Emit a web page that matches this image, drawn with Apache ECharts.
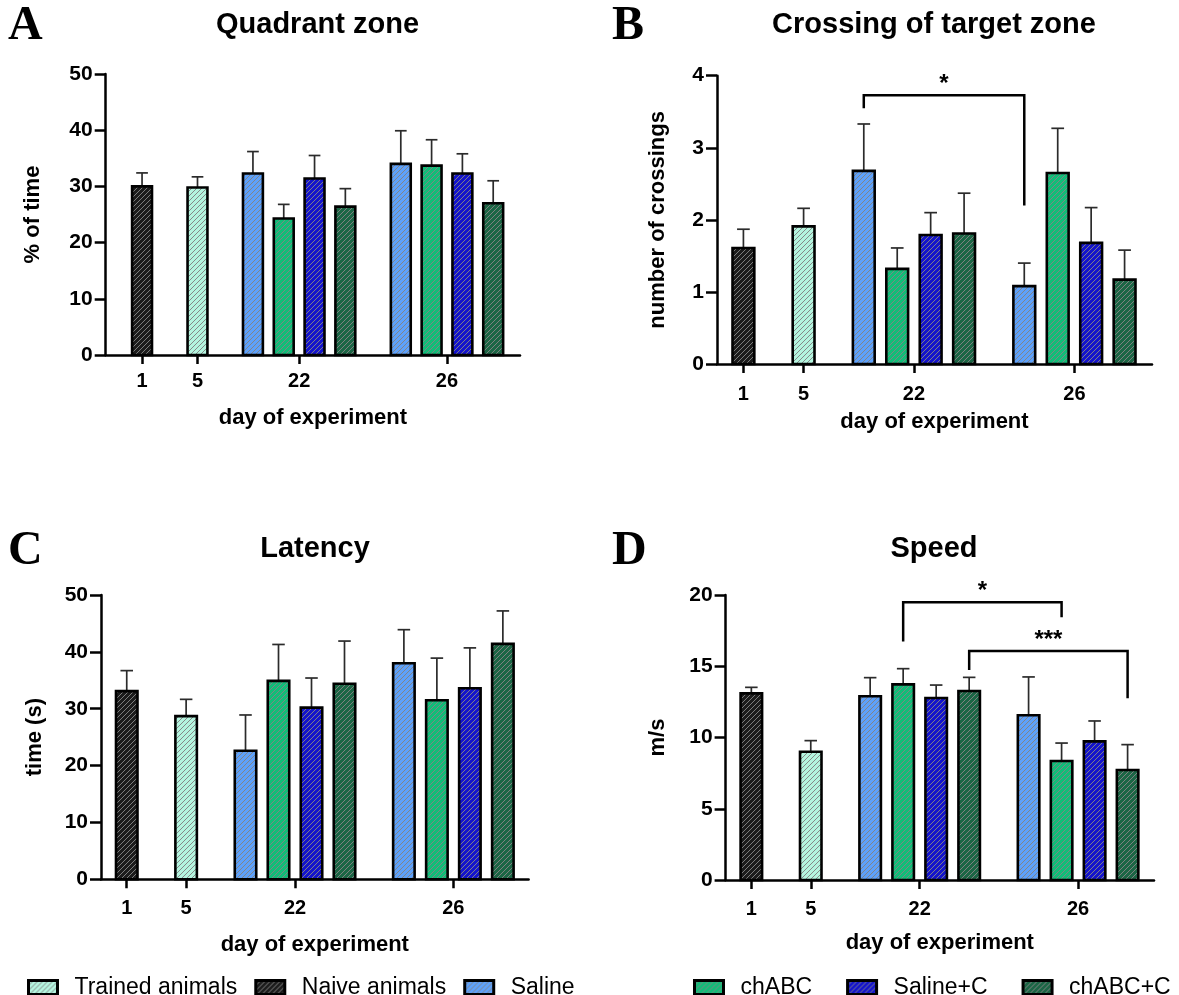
<!DOCTYPE html>
<html><head><meta charset="utf-8">
<script src="https://cdn.jsdelivr.net/npm/echarts@6/dist/echarts.min.js"></script>
<style>html,body{margin:0;padding:0;background:#fff}#c{width:1179px;height:995px}</style>
</head><body><div id="c"></div>
<script>
// ---------------- data ----------------
const groupNames = ['Naive animals', 'Trained animals', 'Saline', 'chABC', 'Saline+C', 'chABC+C'];
const barDays    = ['1', '5', '22', '22', '22', '22', '26', '26', '26', '26'];
const barGroups  = [0, 1, 2, 3, 4, 5, 2, 3, 4, 5];
const dayLabels  = ['1', '5', '22', '26'];

const quadMean  = [30.0, 29.8, 32.3, 24.3, 31.4, 26.4, 34.0, 33.7, 32.3, 27.0];
const quadSem   = [2.4, 1.9, 3.9, 2.5, 4.1, 3.2, 5.9, 4.6, 3.5, 4.0];
const crossMean = [1.61, 1.91, 2.68, 1.32, 1.79, 1.81, 1.08, 2.65, 1.68, 1.17];
const crossSem  = [0.26, 0.25, 0.65, 0.29, 0.31, 0.56, 0.32, 0.62, 0.49, 0.41];
const latMean   = [33.1, 28.7, 22.6, 34.9, 30.2, 34.4, 38.0, 31.5, 33.6, 41.4];
const latSem    = [3.6, 2.95, 6.3, 6.4, 5.2, 7.5, 5.9, 7.4, 7.1, 5.8];
const speedMean = [13.1, 9.0, 12.89, 13.73, 12.77, 13.26, 11.56, 8.35, 9.73, 7.72];
const speedSem  = [0.42, 0.78, 1.31, 1.1, 0.91, 0.96, 2.69, 1.26, 1.43, 1.78];

// significance: bar index pairs, bracket level, drop ends, label
const crossSig = [{from: 2, to: 6, level: 3.73, leftEnd: 3.55, rightEnd: 2.20, text: '*'}];
const speedSig = [
  {from: 3, to: 7, level: 19.5, leftEnd: 16.73, rightEnd: 18.43, text: '*'},
  {from: 5, to: 9, level: 16.07, leftEnd: 14.74, rightEnd: 12.75, text: '***'}
];

// ---------------- styles / layout ----------------
const groupColors = ['#1c1c1c', '#b4f5df', '#5ea1fa', '#10bd78', '#1414cc', '#1b6645'];
const SANS = 'Liberation Sans, Arial, sans-serif';

function hatch(color) {
  const n = 10, c = document.createElement('canvas');
  c.width = n; c.height = n;
  const g = c.getContext('2d');
  g.fillStyle = color; g.fillRect(0, 0, n, n);
  g.strokeStyle = '#838383'; g.lineWidth = 0.95;
  for (const o of [-n, -n / 2, 0, n / 2, n]) {
    g.beginPath(); g.moveTo(o, n); g.lineTo(o + n, 0); g.stroke();
  }
  return {image: c, repeat: 'repeat'};
}
const patterns = groupColors.map(hatch);

// slot positions: 1 unit between bars of same day, 1.8 between days
const slotPos = [];
barDays.forEach((d, i) => {
  if (i === 0) slotPos.push(0);
  else slotPos.push(slotPos[i - 1] + (d === barDays[i - 1] ? 1 : 1.8));
});
const dayPos = dayLabels.map(d => {
  const ps = slotPos.filter((p, i) => barDays[i] === d);
  return ps.reduce((a, b) => a + b, 0) / ps.length;
});
const BAR_FRAC = 0.73, BORDER = 2.6;

const panels = [
  {mean: quadMean, sem: quadSem, sig: [], title: 'Quadrant zone', letter: 'A', yName: '% of time',
   grid: {left: 105.7, top: 74, width: 414.3, height: 281}, xr: [-1.18, 12.27], ymax: 50, step: 10,
   yNameGap: 62, xNameGap: 52, xLabelMargin: 16, titleX: 317.5, titleY: 25, letterX: 8, letterY: 27},
  {mean: crossMean, sem: crossSem, sig: crossSig, title: 'Crossing of target zone', letter: 'B', yName: 'number of crossings',
   grid: {left: 717, top: 75.7, width: 435, height: 288.3}, xr: [-0.79, 12.22], ymax: 4, step: 1,
   yNameGap: 48, xNameGap: 47, xLabelMargin: 20, titleX: 934, titleY: 25, letterX: 612, letterY: 27},
  {mean: latMean, sem: latSem, sig: [], title: 'Latency', letter: 'C', yName: 'time (s)',
   grid: {left: 101, top: 595, width: 427.6, height: 284.3}, xr: [-0.78, 12.18], ymax: 50, step: 10,
   yNameGap: 55, xNameGap: 55, xLabelMargin: 19, titleX: 315, titleY: 549, letterX: 8, letterY: 552},
  {mean: speedMean, sem: speedSem, sig: speedSig, title: 'Speed', letter: 'D', yName: 'm/s',
   grid: {left: 725.6, top: 595, width: 428.4, height: 285}, xr: [-0.78, 12.2], ymax: 20, step: 5,
   yNameGap: 57, xNameGap: 52, xLabelMargin: 19, titleX: 934, titleY: 549, letterX: 612, letterY: 552}
];

const grids = [], xAxes = [], yAxes = [], series = [], graphics = [];
panels.forEach((P, pi) => {
  grids.push(Object.assign({outerBoundsMode: 'none', containLabel: false}, P.grid));
  const pitch = P.grid.width / (P.xr[1] - P.xr[0]);
  xAxes.push({
    type: 'value', gridIndex: pi, min: P.xr[0], max: P.xr[1],
    name: 'day of experiment', nameLocation: 'middle', nameGap: P.xNameGap,
    nameTextStyle: {fontFamily: SANS, fontWeight: 'bold', fontSize: 22, color: '#000'},
    axisLine: {show: true, onZero: false, lineStyle: {color: '#000', width: 2.5}},
    axisTick: {show: true, customValues: dayPos, length: 9, lineStyle: {color: '#000', width: 2.5}},
    axisLabel: {show: true, customValues: dayPos, margin: P.xLabelMargin,
      fontFamily: SANS, fontWeight: 'bold', fontSize: 20, color: '#000',
      formatter: v => { let k = 0, best = 1e9; dayPos.forEach((p, i) => { if (Math.abs(p - v) < best) { best = Math.abs(p - v); k = i; } }); return dayLabels[k]; }},
    splitLine: {show: false}
  });
  yAxes.push({
    type: 'value', gridIndex: pi, min: 0, max: P.ymax, interval: P.step,
    name: P.yName, nameLocation: 'middle', nameGap: P.yNameGap,
    nameTextStyle: {fontFamily: SANS, fontWeight: 'bold', fontSize: 22, color: '#000'},
    axisLine: {show: true, onZero: false, lineStyle: {color: '#000', width: 2.5}},
    axisTick: {show: true, length: 11, lineStyle: {color: '#000', width: 2.5}},
    axisLabel: {margin: 13, fontFamily: SANS, fontWeight: 'bold', fontSize: 21, color: '#000'},
    splitLine: {show: false}
  });
  // bars: one custom series per group
  groupNames.forEach((name, gi) => {
    const data = [];
    P.mean.forEach((m, i) => { if (barGroups[i] === gi) data.push([slotPos[i], m]); });
    series.push({
      type: 'custom', name, xAxisIndex: pi, yAxisIndex: pi, data, z: 3, animation: false, silent: true,
      itemStyle: {color: patterns[gi], borderColor: '#000', borderWidth: BORDER},
      renderItem: (params, api) => {
        const x = api.value(0), y = api.value(1);
        const a = api.coord([x - BAR_FRAC / 2, y]);
        const b = api.coord([x + BAR_FRAC / 2, 0]);
        return {type: 'rect',
          shape: {x: a[0] + BORDER / 2, y: a[1], width: b[0] - a[0] - BORDER, height: b[1] - a[1]},
          style: {fill: patterns[gi], stroke: '#000', lineWidth: BORDER}};
      }
    });
  });
  // error bars (upper SEM)
  series.push({
    type: 'custom', xAxisIndex: pi, yAxisIndex: pi, z: 2, animation: false, silent: true,
    data: P.mean.map((m, i) => [slotPos[i], m, m + P.sem[i]]),
    renderItem: (params, api) => {
      const p0 = api.coord([api.value(0), api.value(1)]);
      const p1 = api.coord([api.value(0), api.value(2)]);
      const hw = 0.19 * pitch;
      const st = {stroke: '#2b2b2b', lineWidth: 1.7};
      return {type: 'group', children: [
        {type: 'line', shape: {x1: p0[0], y1: p0[1], x2: p1[0], y2: p1[1]}, style: st},
        {type: 'line', shape: {x1: p1[0] - hw, y1: p1[1], x2: p1[0] + hw, y2: p1[1]}, style: st}
      ]};
    }
  });
  if (P.sig.length) {
    series.push({
      type: 'custom', xAxisIndex: pi, yAxisIndex: pi, z: 5, animation: false, silent: true, clip: false,
      data: P.sig.map(s => [slotPos[s.from], slotPos[s.to], s.level, s.leftEnd, s.rightEnd]),
      renderItem: (params, api) => {
        const s = P.sig[params.dataIndex];
        const a = api.coord([api.value(0), api.value(3)]);
        const b = api.coord([api.value(0), api.value(2)]);
        const c = api.coord([api.value(1), api.value(2)]);
        const d = api.coord([api.value(1), api.value(4)]);
        return {type: 'group', children: [
          {type: 'polyline', shape: {points: [a, b, c, d]}, style: {stroke: '#000', lineWidth: 2.5, fill: null}},
          {type: 'text', x: (b[0] + c[0]) / 2, y: b[1] - 11, style: {text: s.text, fill: '#000',
            font: 'bold 24px ' + SANS, align: 'center', verticalAlign: 'middle'}}
        ]};
      }
    });
  }
  graphics.push({type: 'text', x: P.titleX, y: P.titleY, style: {text: P.title, fill: '#000',
    font: 'bold 29px ' + SANS, align: 'center', verticalAlign: 'middle'}});
  graphics.push({type: 'text', x: P.letterX, y: P.letterY, style: {text: P.letter, fill: '#000',
    font: 'bold 48px Liberation Serif, Times New Roman, serif', align: 'left', verticalAlign: 'middle'}});
});

const legendText = {fontFamily: SANS, fontSize: 23, color: '#000', padding: [0, 0, 0, 12]};
const legendItem = {borderColor: '#000', borderWidth: 3};
const option = {
  backgroundColor: '#fff',
  animation: false,
  grid: grids, xAxis: xAxes, yAxis: yAxes, series,
  legend: [
    {data: ['Trained animals', 'Naive animals', 'Saline'], left: 22, top: 971, icon: 'rect',
     itemWidth: 29, itemHeight: 14, itemGap: 17, textStyle: legendText, itemStyle: legendItem, selectedMode: false},
    {data: ['chABC', 'Saline+C', 'chABC+C'], left: 688, top: 971, icon: 'rect',
     itemWidth: 29, itemHeight: 14, itemGap: 34, textStyle: legendText, itemStyle: legendItem, selectedMode: false}
  ],
  graphic: graphics
};
const chart = echarts.init(document.getElementById('c'), null, {renderer: 'canvas'});
chart.setOption(option);
</script></body></html>
